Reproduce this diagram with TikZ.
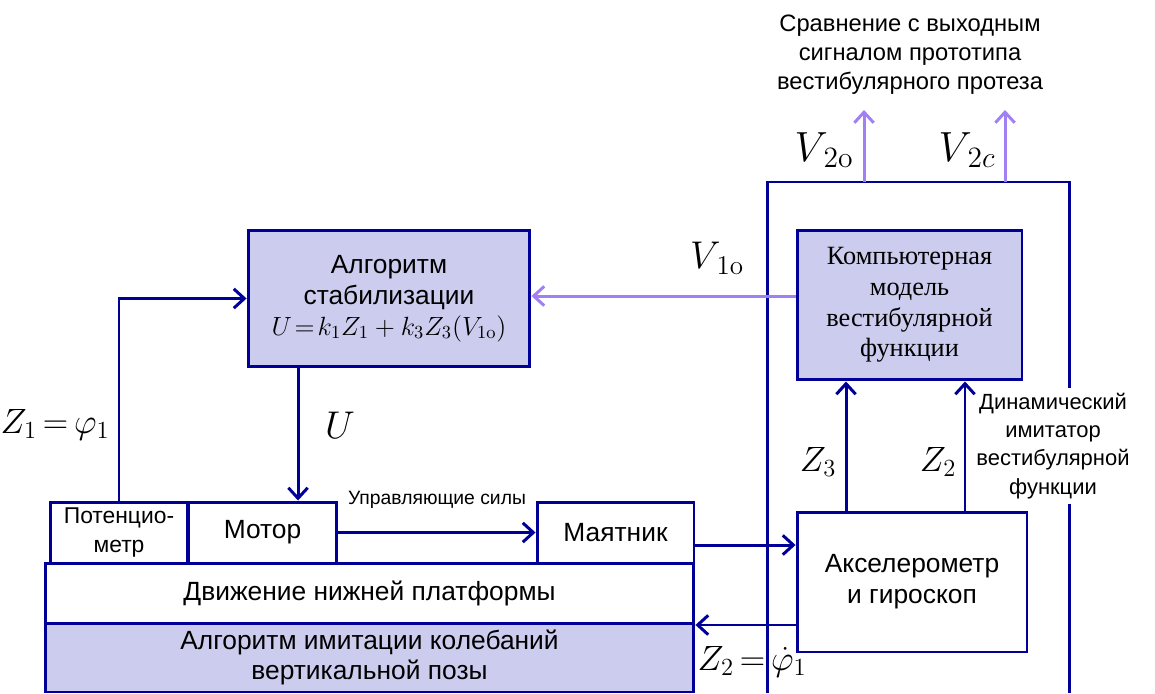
\RequirePackage{fix-cm}
\documentclass[tikz,border=0pt]{standalone}
\usepackage[no-math]{fontspec}
\setmainfont{Liberation Sans}
\newfontfamily\serifcyr{Liberation Serif}
\usetikzlibrary{arrows.meta, calc}

\definecolor{DiagNavy}{HTML}{000099}
\definecolor{DiagLilac}{HTML}{CCCCEE}
\definecolor{DiagViolet}{HTML}{A080F2}

\begin{document}
\begin{tikzpicture}[x=0.02cm, y=-0.02cm,
    block/.style={draw=DiagNavy, line width=1.7pt, align=center, inner sep=2pt,
      font=\fontsize{15}{17.5}\selectfont},
    shaded/.style={block, fill=DiagLilac},
    navyarrow/.style={-{Straight Barb[length=6pt, width=11pt]}, DiagNavy, line width=1.7pt},
    violetarrow/.style={navyarrow, DiagViolet},
    mathlabel/.style={font=\fontsize{20}{24}\selectfont},
    note/.style={align=center, font=\fontsize{13.5}{16.5}\selectfont}
  ]
    \useasboundingbox (0,0) rectangle (1155,693);

    % outer frame of the imitator
    \draw[DiagNavy, line width=1.7pt] (767,693) -- (767,182) -- (1069,182) -- (1069,693);

    \node[shaded, minimum width=5.64cm, minimum height=2.74cm] (stab) at (389,298.5)
      {Алгоритм\\стабилизации\\$U\!=\!k_1Z_1+k_3Z_3(V_{1\mathrm{o}})$};
    \node[shaded, minimum width=4.5cm, minimum height=3cm,
      font=\serifcyr\fontsize{15}{17.5}\selectfont] (model) at (909.5,305)
      {Компьютерная\\модель\\вестибулярной\\функции};
    \node[block, minimum width=4.6cm, minimum height=2.8cm] (sensor) at (912,582)
      {Акселерометр\\и гироскоп};

    % lower platform
    \node[shaded, minimum width=12.98cm, minimum height=1.38cm] (imit) at (369.5,657.5)
      {Алгоритм имитации колебаний\\вертикальной позы};
    \node[block, fill=white, minimum width=12.98cm, minimum height=1.2cm] (platform) at (369.5,593)
      {Движение нижней платформы};
    \node[block, minimum width=2.76cm, minimum height=1.22cm,
      font=\fontsize{13}{16}\selectfont] (pot) at (119,532.5) {Потенцио-\\метр};
    \node[block, minimum width=2.98cm, minimum height=1.22cm] (motor) at (262.5,532.5) {Мотор};
    \node[block, minimum width=3.14cm, minimum height=1.22cm] (pend) at (615.5,532.5) {Маятник};

    \node[note, fill=white, inner sep=3pt, font=\fontsize{12.5}{16}\selectfont] (imitator) at (1053,446)
      {Динамический\\имитатор\\вестибулярной\\функции};
    \node[note] (compare) at (910,55)
      {Сравнение с выходным\\сигналом прототипа\\вестибулярного протеза};

    % free ends and taps
    \coordinate (uTop) at ([xshift=-1.82cm]stab.south);
    \coordinate (z3Foot) at ([xshift=-1.32cm]sensor.north);
    \coordinate (z2Foot) at ([xshift=1.06cm]sensor.north);
    \coordinate (pendOut) at ([yshift=-0.25cm]pend.east);
    \coordinate (phiOut) at ([yshift=-0.86cm]sensor.west);
    \coordinate (vOut) at ([yshift=0.18cm]model.west);
    \coordinate (outO) at (864,182);
    \coordinate (outC) at (1005,182);
    \coordinate (tipO) at (864,110);
    \coordinate (tipC) at (1005,110);

    \draw[navyarrow] (pot.north) |- (stab.west);
    \draw[navyarrow] (uTop) -- (uTop |- motor.north);
    \draw[navyarrow] (motor.east) -- (pend.west)
      node[midway, yshift=0.66cm, text=black, font=\fontsize{11}{13}\selectfont] {Управляющие силы};
    \draw[navyarrow] (pendOut) -- (pendOut -| sensor.west);
    \draw[navyarrow] (phiOut) -- (phiOut -| platform.east);
    \draw[navyarrow] (z3Foot) -- (z3Foot |- model.south);
    \draw[navyarrow] (z2Foot) -- (z2Foot |- model.south);
    \draw[violetarrow] (vOut) -- (vOut -| stab.east);
    \draw[violetarrow] (outO) -- (tipO);
    \draw[violetarrow] (outC) -- (tipC);

    \node[mathlabel] (z1Label) at (55,425) {$Z_1\,{=}\,\varphi_1$};
    \node[mathlabel, font=\fontsize{22}{26}\selectfont] (uLabel) at (340,425) {$U$};
    \node[mathlabel, font=\fontsize{22}{26}\selectfont] (v1Label) at (717,258) {$V_{\,1\mathrm{o}}$};
    \node[mathlabel, font=\fontsize{24}{28}\selectfont] (v2oLabel) at (824,150) {$V_{\,2\mathrm{o}}$};
    \node[mathlabel, font=\fontsize{24}{28}\selectfont] (v2cLabel) at (967,150) {$V_{\,2c}$};
    \node[mathlabel] (z3Label) at (818,462) {$Z_3$};
    \node[mathlabel] (z2Label) at (938,462) {$Z_2$};
    \node[mathlabel, inner sep=1pt] (phiLabel) at (752,662) {$Z_2\,{=}\,\dot\varphi_1$};
  \end{tikzpicture}
\end{document}
